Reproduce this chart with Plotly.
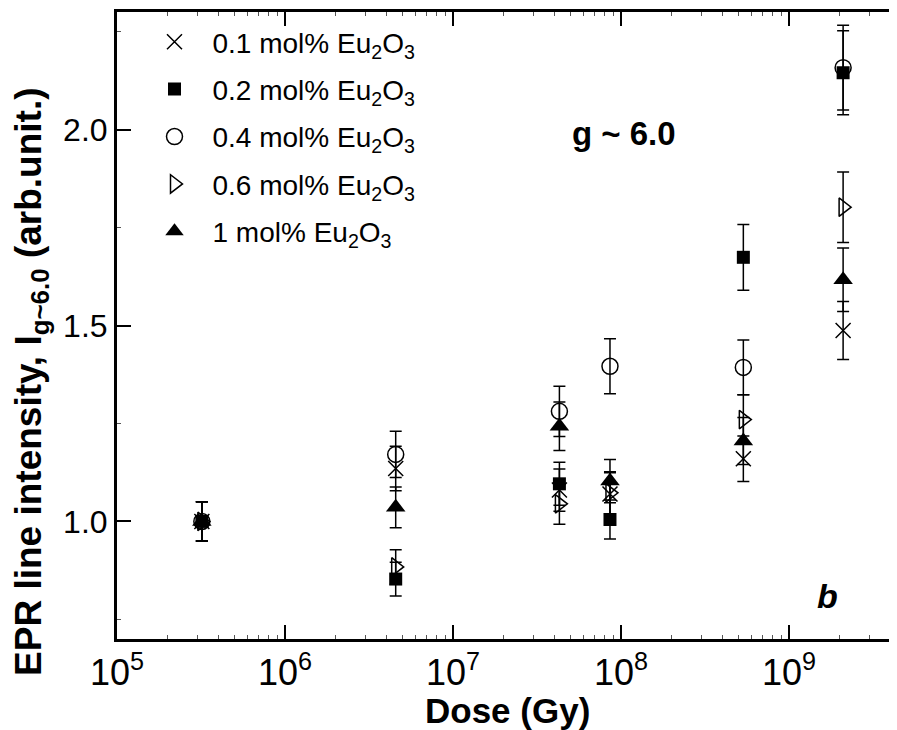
import plotly.graph_objects as go

dose = [3.2e5, 4.56e6, 4.3e7, 8.6e7, 5.35e8, 2.1e9]

labels = ["0.1 mol% Eu<sub>2</sub>O<sub>3</sub>", "0.2 mol% Eu<sub>2</sub>O<sub>3</sub>",
          "0.4 mol% Eu<sub>2</sub>O<sub>3</sub>", "0.6 mol% Eu<sub>2</sub>O<sub>3</sub>",
          "1 mol% Eu<sub>2</sub>O<sub>3</sub>"]

v01 = [1.0, 1.135, 1.08, 1.07, 1.16, 1.487]
v02 = [1.0, 0.853, 1.096, 1.005, 1.674, 2.145]
v04 = [1.0, 1.171, 1.281, 1.396, 1.393, 2.158]
v06 = [1.0, 0.884, 1.045, 1.073, 1.26, 1.802]
v10 = [1.0, 1.036, 1.243, 1.103, 1.205, 1.617]

e01 = [0.05, 0.057, 0.054, 0.054, 0.058, 0.074]
e02 = [0.05, 0.043, 0.055, 0.05, 0.084, 0.107]
e04 = [0.05, 0.059, 0.064, 0.07, 0.07, 0.108]
e06 = [0.05, 0.044, 0.052, 0.054, 0.063, 0.09]
e10 = [0.05, 0.052, 0.062, 0.055, 0.06, 0.081]

x_tickvals = [1e5, 1e6, 1e7, 1e8, 1e9]
x_ticktext = ["10<sup>5</sup>", "10<sup>6</sup>", "10<sup>7</sup>", "10<sup>8</sup>", "10<sup>9</sup>"]
y_tickvals = [1.0, 1.5, 2.0]
y_ticktext = ["1.0", "1.5", "2.0"]

x_title = "<b>Dose (Gy)</b>"
y_title = "<b>EPR line intensity, I<sub>g~6.0</sub> (arb.unit.)</b>"

FONT = "Liberation Sans, Arial, sans-serif"

series = [
    (labels[0], v01, e01, dict(symbol="x-thin", size=15, color="black", line=dict(width=1.5, color="black"))),
    (labels[1], v02, e02, dict(symbol="square", size=13, color="black", line=dict(width=0))),
    (labels[2], v04, e04, dict(symbol="circle-open", size=16, color="black", line=dict(width=1.5, color="black"))),
    (labels[3], v06, e06, dict(symbol="triangle-right-open", size=16, color="black", line=dict(width=1.5, color="black"))),
    (labels[4], v10, e10, dict(symbol="triangle-up", size=17, color="black", line=dict(width=0))),
]

fig = go.Figure()
for i, (name, vals, errs, mk) in enumerate(series):
    fig.add_trace(go.Scatter(
        x=dose, y=vals, mode="markers", name=name, marker=mk,
        legendgroup=f"g{i}",
        error_y=dict(type="data", array=errs, visible=True, color="black", thickness=1.5, width=6),
    ))

# the page body has an 8px default margin, so the figure is 8px smaller than the window
fig.update_layout(
    width=889, height=722,
    margin=dict(l=109, r=0, t=4, b=91),
    paper_bgcolor="white", plot_bgcolor="white",
    font=dict(family=FONT, color="black"),
    showlegend=True,
    legend=dict(x=0.025, y=0.992, xanchor="left", yanchor="top",
                font=dict(size=28, family=FONT), bgcolor="rgba(0,0,0,0)",
                tracegroupgap=8, traceorder="grouped", itemwidth=66),
    xaxis=dict(type="log", range=[5, 9.643], tickvals=x_tickvals, ticktext=x_ticktext,
               ticks="inside", ticklen=14, tickwidth=2, tickcolor="black",
               showline=True, linecolor="black", linewidth=3, mirror="ticks",
               showgrid=False, zeroline=False, automargin=False,
               tickfont=dict(size=36, family=FONT),
               minor=dict(ticks="inside", ticklen=4, tickwidth=1, tickcolor="#555", dtick="D1", showgrid=False)),
    yaxis=dict(range=[0.7, 2.3], tickvals=y_tickvals, ticktext=y_ticktext,
               ticks="inside", ticklen=14, tickwidth=2, tickcolor="black",
               showline=True, linecolor="black", linewidth=3, mirror=False,
               showgrid=False, zeroline=False, automargin=False,
               tickfont=dict(size=32, family=FONT),
               minor=dict(ticks="inside", ticklen=4, tickwidth=1, tickcolor="#555", dtick=0.25, showgrid=False)),
)

fig.add_annotation(x=0, y=0.41, xref="paper", yref="paper", xshift=-86, xanchor="center", yanchor="middle",
                   text=y_title, textangle=-90, showarrow=False,
                   font=dict(size=37, family=FONT, color="black"))
fig.add_annotation(x=0.5, y=0, xref="paper", yref="paper", yshift=-71, yanchor="middle",
                   text=x_title, showarrow=False, font=dict(size=35, family=FONT, color="black"))

fig.add_annotation(x=8.02, y=1.99, xref="x", yref="y", text="<b>g ~ 6.0</b>", showarrow=False,
                   font=dict(size=33, family=FONT, color="black"))
fig.add_annotation(x=9.23, y=0.81, xref="x", yref="y", text="<b><i>b</i></b>", showarrow=False,
                   font=dict(size=34, family=FONT, color="black"))

fig.write_html("out.html")
